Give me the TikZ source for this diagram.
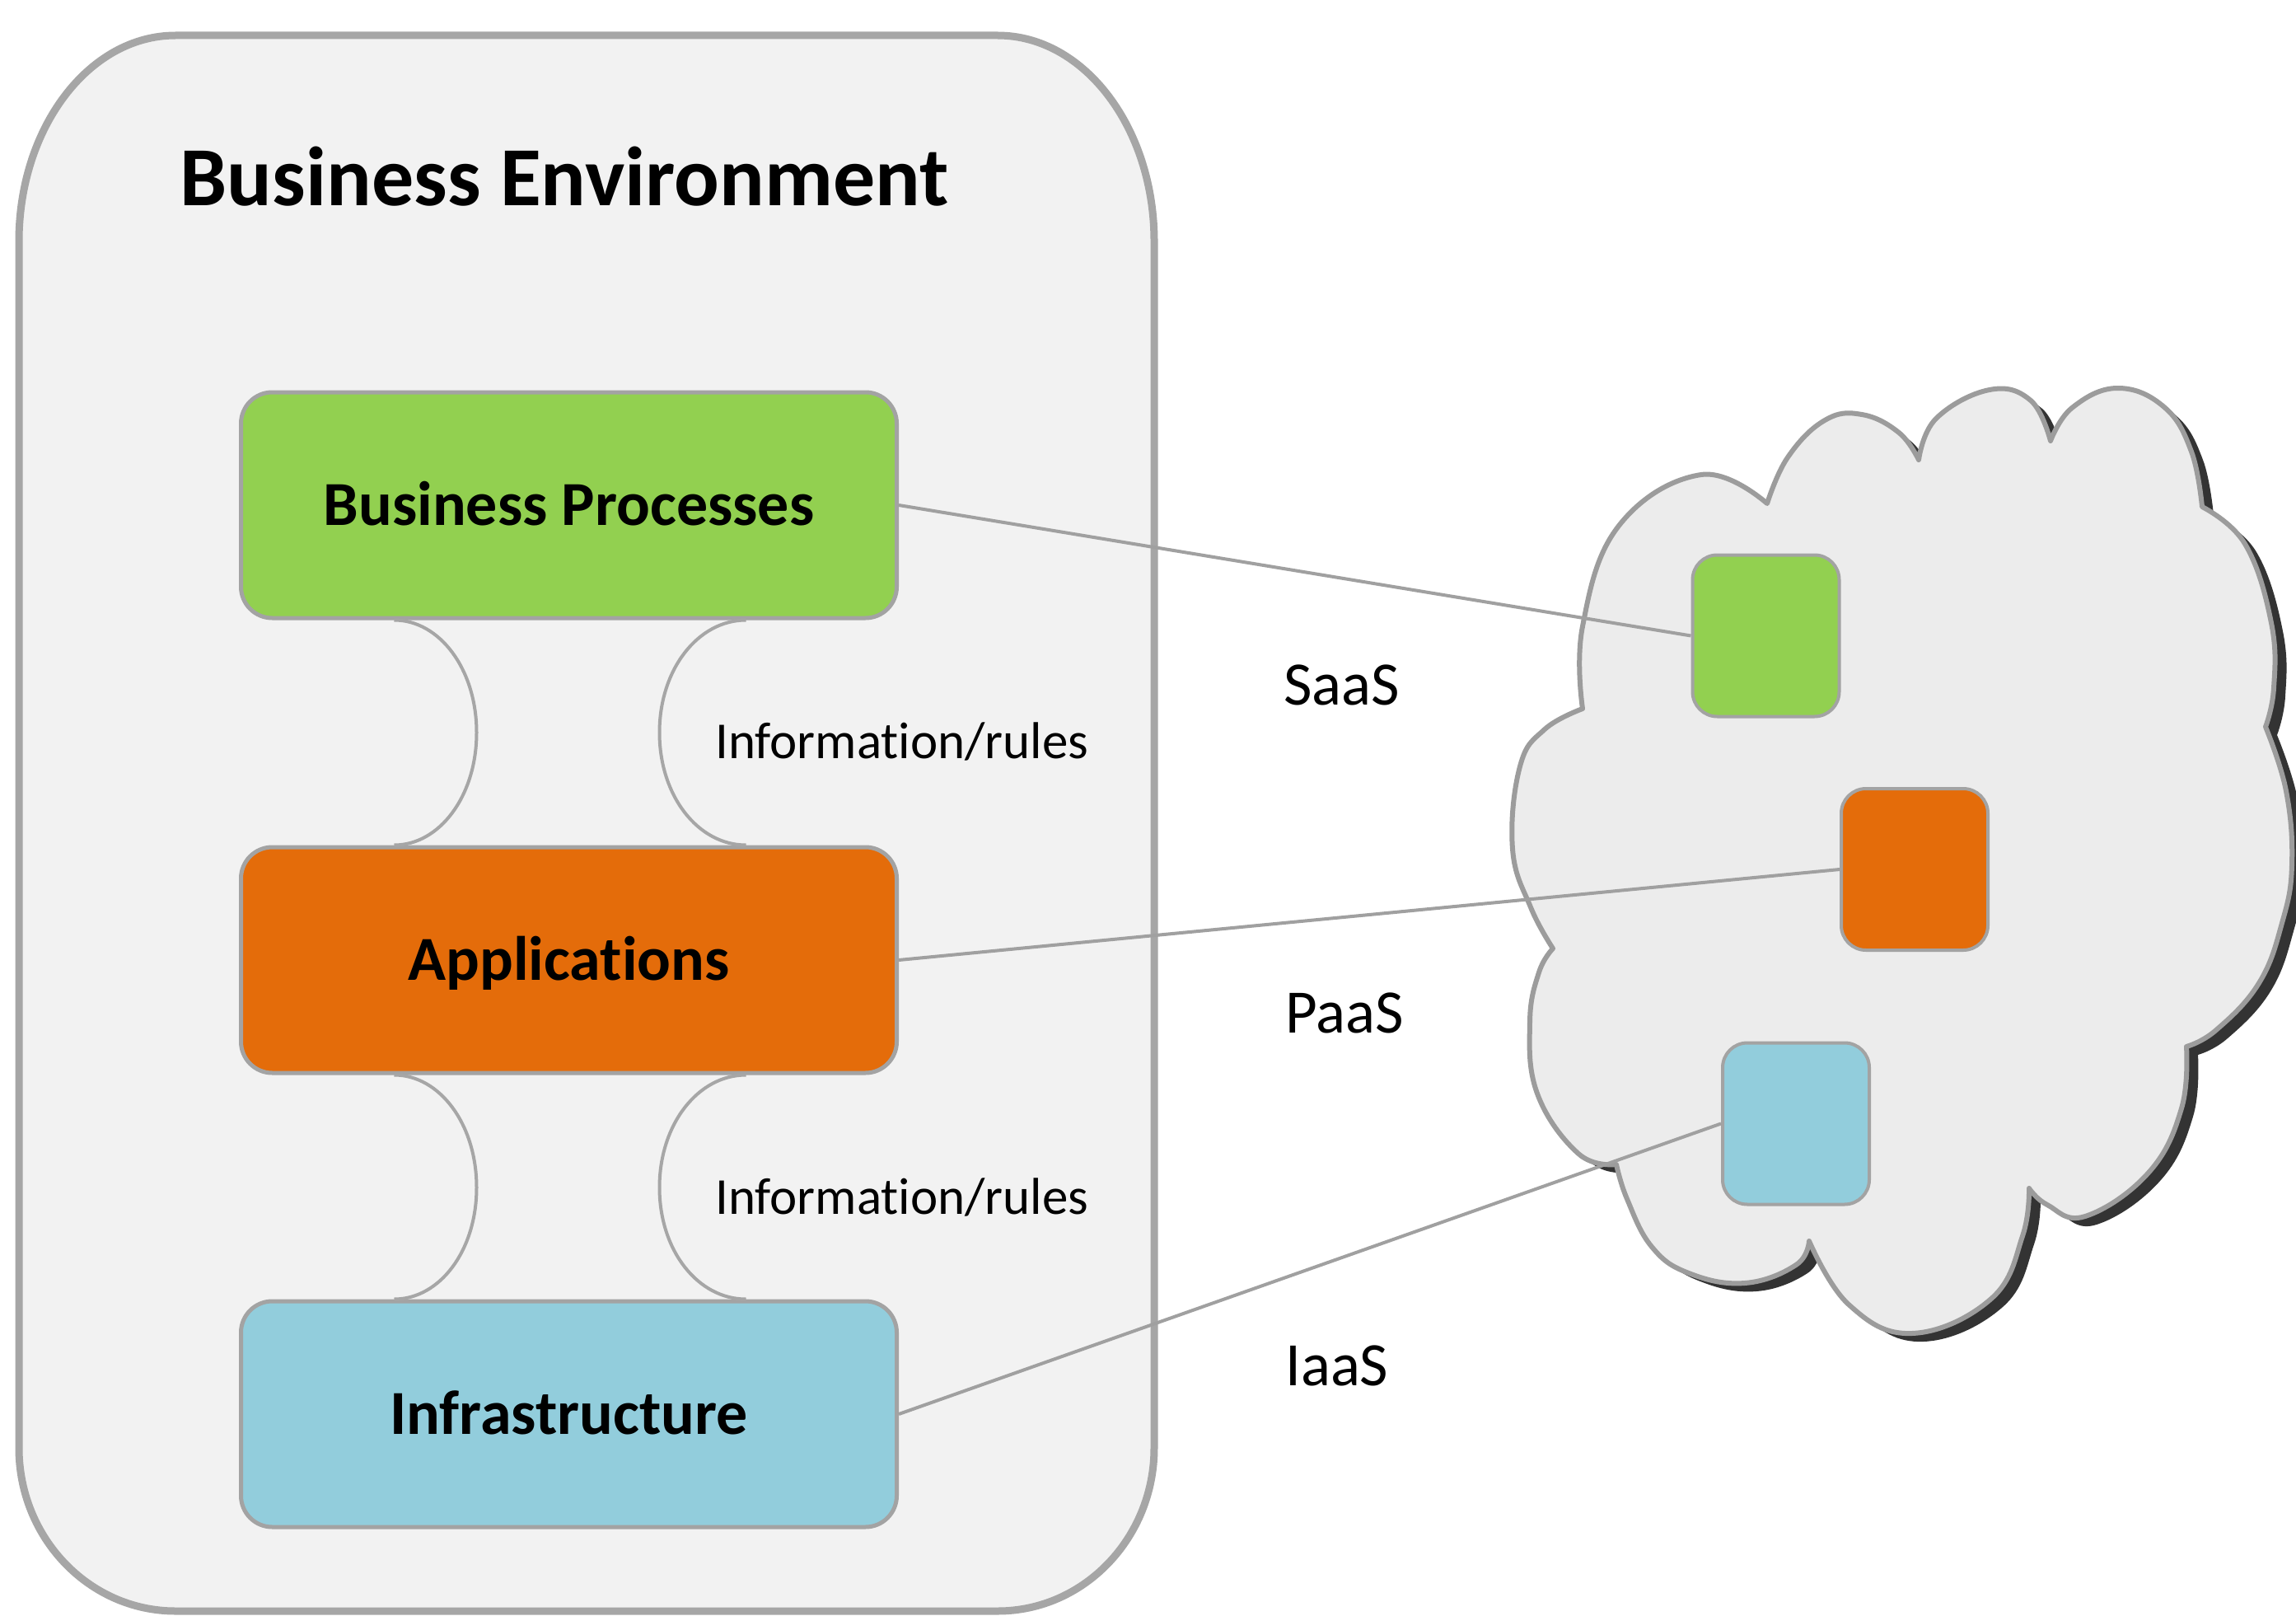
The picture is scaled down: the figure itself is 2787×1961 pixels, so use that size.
\documentclass[tikz,border=0pt]{standalone}
\usepackage{fontspec}
\setmainfont{Carlito}[RawFeature={-liga;-clig;-calt}]
\definecolor{bpgreen}{HTML}{92D050}
\definecolor{apporange}{HTML}{E46C0A}
\definecolor{infblue}{HTML}{92CDDC}
\definecolor{boxline}{HTML}{A3A3A3}
\definecolor{outerline}{HTML}{A6A6A6}
\definecolor{outerfill}{HTML}{F2F2F2}
\definecolor{linegray}{HTML}{A0A0A0}
\definecolor{cloudfill}{HTML}{ECECEC}
\definecolor{cloudline}{HTML}{9C9C9C}
\definecolor{shadowgray}{HTML}{333333}
\tikzset{
  cloudpath/.style={insert path={
    plot[smooth,tension=0.7] coordinates {(1921,860) (1921,760) (1965,638) (2065,576) (2145,611)}
    -- plot[smooth,tension=0.7] coordinates {(2145,611) (2170,555) (2215,510) (2260,503) (2305,525) (2329,558)}
    -- plot[smooth,tension=0.7] coordinates {(2329,558) (2350,508) (2415,473) (2465,486) (2489,535)}
    -- plot[smooth,tension=0.7] coordinates {(2489,535) (2515,495) (2570,471) (2627,494) (2660,548) (2673,615)}
    -- plot[smooth,tension=0.7] coordinates {(2673,615) (2725,660) (2757,756) (2760,835) (2750,882)}
    -- plot[smooth,tension=0.7] coordinates {(2750,882) (2775,960) (2782,1050) (2770,1120) (2742,1193) (2690,1250) (2654,1270)}
    -- plot[smooth,tension=0.7] coordinates {(2654,1270) (2648,1345) (2608,1423) (2531,1476) (2485,1462) (2463,1442)}
    -- plot[smooth,tension=0.7] coordinates {(2463,1442) (2455,1500) (2417,1576) (2321,1618) (2244,1583) (2196,1506)}
    -- plot[smooth,tension=0.7] coordinates {(2196,1506) (2180,1535) (2118,1557) (2050,1545) (2005,1513) (1975,1455) (1962,1413)}
    -- plot[smooth,tension=0.7] coordinates {(1962,1413) (1916,1400) (1866,1327) (1857,1240) (1868,1180) (1885,1151)}
    -- plot[smooth,tension=0.7] coordinates {(1885,1151) (1858,1101) (1836,1030) (1845,930) (1875,885) (1921,860)}
    -- cycle}}
}
\begin{document}
\begin{tikzpicture}[x=1pt,y=-1pt,
  box/.style={draw=boxline, line width=5pt, rounded corners=38pt,
    minimum width=796pt, minimum height=274pt, inner sep=0pt,
    text height=49pt, text depth=0pt,
    font=\fontsize{76}{80}\selectfont\bfseries},
  sq/.style={draw=boxline, line width=4pt, rounded corners=30pt,
    minimum width=178pt, minimum height=196pt, inner sep=0pt},
  link/.style={draw=linegray, line width=4pt},
  neck/.style={draw=outerline, line width=4pt},
  lab/.style={anchor=base west, inner sep=0pt, font=\fontsize{63}{66}\selectfont},
  svc/.style={anchor=base west, inner sep=0pt, font=\fontsize{75}{80}\selectfont}
]
\fill[white] (0,0) rectangle (2787,1961);
\useasboundingbox (0,0) rectangle (2787,1961);

% outer business environment container
\draw[draw=outerline, fill=outerfill, line width=9pt]
  (213,43) -- (1211,43) .. controls (1316,43) and (1401,155) .. (1401,293)
  -- (1401,1757) .. controls (1401,1866) and (1316,1955) .. (1211,1955)
  -- (213,1955) .. controls (108,1955) and (23,1866) .. (23,1757)
  -- (23,293) .. controls (23,155) and (108,43) .. (213,43) -- cycle;

\node[anchor=base, inner sep=0pt, font=\fontsize{102}{110}\selectfont\bfseries] (title) at (685,250) {Business Environment};

% layer boxes
\node[box, fill=bpgreen] (bp) at (690.5,613) {Business Processes};
\node[box, fill=apporange] (app) at (690.5,1165) {Applications};
\node[box, fill=infblue] (inf) at (690.5,1716) {Infrastructure};

% necks between layers
\draw[neck] ([xshift=-212pt]bp.south) .. controls +(55,0) and +(0,-77) .. ++(100,136.5)
  .. controls +(0,77) and +(55,0) .. ([xshift=-212pt]app.north);
\draw[neck] ([xshift=215pt]bp.south) .. controls +(-58,0) and +(0,-77) .. ++(-105,136.5)
  .. controls +(0,77) and +(-58,0) .. ([xshift=215pt]app.north);
\draw[neck] ([xshift=-212pt]app.south) .. controls +(55,0) and +(0,-77) .. ++(100,136.5)
  .. controls +(0,77) and +(55,0) .. ([xshift=-212pt]inf.north);
\draw[neck] ([xshift=215pt]app.south) .. controls +(-58,0) and +(0,-77) .. ++(-105,136.5)
  .. controls +(0,77) and +(-58,0) .. ([xshift=215pt]inf.north);

\node[lab] (ir1) at (868,920) {Informat\kern0pt ion/rules};
\node[lab] (ir2) at (868,1473) {Informat\kern0pt ion/rules};

\node[svc] (saas) at (1558,855) {SaaS};
\node[svc] (paas) at (1560,1253) {PaaS};
\node[svc] (iaas) at (1560,1681) {IaaS};

% cloud
\begin{scope}[shift={(14,10)}]
  \fill[shadowgray, cloudpath];
\end{scope}
\path[fill=cloudfill, draw=cloudline, line width=6pt, line join=round, cloudpath];

\node[sq, fill=bpgreen] (gsq) at (2143.5,771.5) {};
\node[sq, fill=apporange] (osq) at (2324,1055) {};
\node[sq, fill=infblue] (bsq) at (2180,1363.5) {};

% links
\draw[link] (bp.east) -- (gsq.west);
\draw[link] (app.east) -- (osq.west);
\draw[link] (inf.east) -- (bsq.west);
\end{tikzpicture}
\end{document}
